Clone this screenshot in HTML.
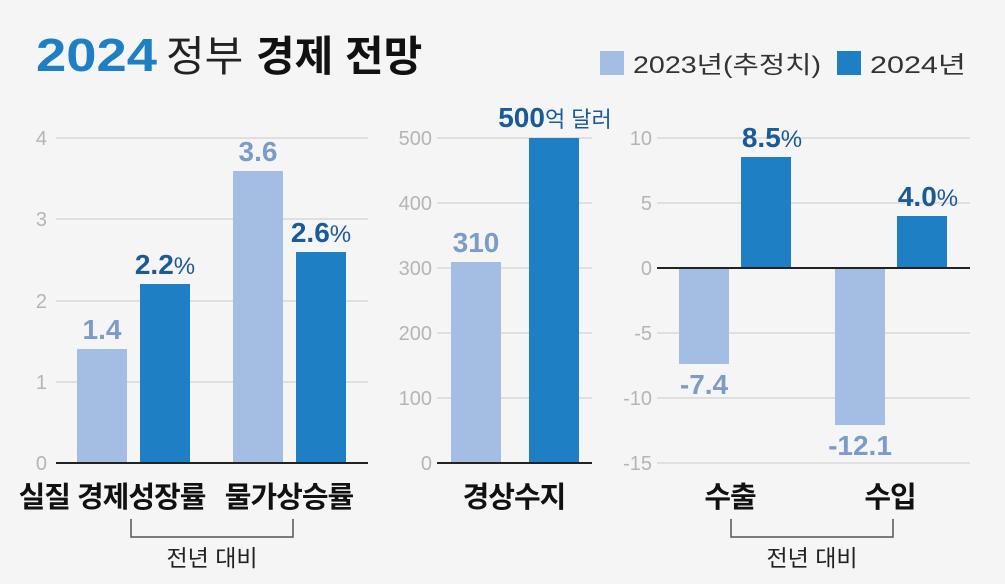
<!DOCTYPE html><html><head><meta charset="utf-8"><style>body{margin:0;background:#f5f5f5}svg{display:block}text{font-family:"Liberation Sans","Noto Sans CJK KR",sans-serif}</style></head><body>
<svg width="1005" height="584" viewBox="0 0 1005 584" xmlns="http://www.w3.org/2000/svg">
<rect width="1005" height="584" fill="#f5f5f5"/>
<text x="36" y="71" font-size="46" font-weight="bold" fill="#1f7fc4" textLength="121" lengthAdjust="spacingAndGlyphs">2024</text>
<text x="166" y="71" font-size="42" fill="#222">정부</text>
<text x="256" y="71" font-size="42" font-weight="bold" fill="#111">경제 전망</text>
<rect x="600" y="51" width="24" height="24" fill="#a3bde3"/>
<text x="633" y="73" font-size="24" fill="#333" textLength="188" lengthAdjust="spacingAndGlyphs">2023년(추정치)</text>
<rect x="837" y="51" width="24" height="24" fill="#1f7fc4"/>
<text x="870" y="73" font-size="24" fill="#333" textLength="96" lengthAdjust="spacingAndGlyphs">2024년</text>
<g stroke="#d8d8d8" stroke-width="1.5">
<line x1="56" x2="368" y1="138" y2="138"/><line x1="56" x2="368" y1="219" y2="219"/><line x1="56" x2="368" y1="301" y2="301"/><line x1="56" x2="368" y1="382" y2="382"/>
<line x1="437" x2="592" y1="138" y2="138"/><line x1="437" x2="592" y1="203" y2="203"/><line x1="437" x2="592" y1="268" y2="268"/><line x1="437" x2="592" y1="333" y2="333"/><line x1="437" x2="592" y1="398" y2="398"/>
<line x1="657" x2="970" y1="138" y2="138"/><line x1="657" x2="970" y1="203" y2="203"/><line x1="657" x2="970" y1="333" y2="333"/><line x1="657" x2="970" y1="398" y2="398"/><line x1="657" x2="970" y1="463" y2="463"/>
</g>
<g font-size="20" fill="#b5b5b5" text-anchor="end">
<text x="47" y="145">4</text><text x="47" y="226">3</text><text x="47" y="308">2</text><text x="47" y="389">1</text><text x="47" y="470">0</text>
<text x="432" y="145">500</text><text x="432" y="210">400</text><text x="432" y="275">300</text><text x="432" y="340">200</text><text x="432" y="405">100</text><text x="432" y="470">0</text>
<text x="652" y="145">10</text><text x="652" y="210">5</text><text x="652" y="275">0</text><text x="652" y="340">-5</text><text x="652" y="405">-10</text><text x="652" y="470">-15</text>
</g>
<rect x="77" y="349" width="50" height="114" fill="#a3bde3"/>
<rect x="140" y="284" width="50" height="179" fill="#1f7fc4"/>
<rect x="233" y="171" width="50" height="292" fill="#a3bde3"/>
<rect x="296" y="252" width="50" height="211" fill="#1f7fc4"/>
<rect x="451" y="262" width="50" height="201" fill="#a3bde3"/>
<rect x="529" y="138" width="50" height="325" fill="#1f7fc4"/>
<rect x="679" y="268" width="50" height="96" fill="#a3bde3"/>
<rect x="741" y="157" width="50" height="111" fill="#1f7fc4"/>
<rect x="835" y="268" width="50" height="157" fill="#a3bde3"/>
<rect x="897" y="216" width="50" height="52" fill="#1f7fc4"/>
<g stroke="#222" stroke-width="2"><line x1="56" x2="368" y1="463" y2="463"/><line x1="437" x2="592" y1="463" y2="463"/><line x1="657" x2="970" y1="268" y2="268"/></g>
<g font-size="28" font-weight="bold" text-anchor="middle">
<text x="102" y="339" fill="#7b9cc9">1.4</text>
<text x="165" y="274" fill="#1a5a96">2.2<tspan font-size="24" font-weight="normal">%</tspan></text>
<text x="258" y="161" fill="#7b9cc9">3.6</text>
<text x="321" y="242" fill="#1a5a96">2.6<tspan font-size="24" font-weight="normal">%</tspan></text>
<text x="476" y="252" fill="#7b9cc9">310</text>
<text x="555" y="127" fill="#1a5a96">500<tspan font-size="22" font-weight="normal">억 달러</tspan></text>
<text x="704" y="394" fill="#7b9cc9">-7.4</text>
<text x="772" y="147" fill="#1a5a96">8.5<tspan font-size="24" font-weight="normal">%</tspan></text>
<text x="860" y="455" fill="#7b9cc9">-12.1</text>
<text x="928" y="206" fill="#1a5a96">4.0<tspan font-size="24" font-weight="normal">%</tspan></text>
</g>
<g font-size="29" font-weight="bold" fill="#111" text-anchor="middle" letter-spacing="-1">
<text x="112" y="507">실질 경제성장률</text><text x="289" y="507">물가상승률</text>
<text x="514" y="507">경상수지</text><text x="730" y="507">수출</text><text x="890" y="507">수입</text>
</g>
<g stroke="#555" stroke-width="1.5" fill="none">
<path d="M131 519V537H293V519"/><path d="M731 519V537H893V519"/>
</g>
<g font-size="23" fill="#222" text-anchor="middle"><text x="212" y="566">전년 대비</text><text x="812" y="566">전년 대비</text></g>
</svg></body></html>
